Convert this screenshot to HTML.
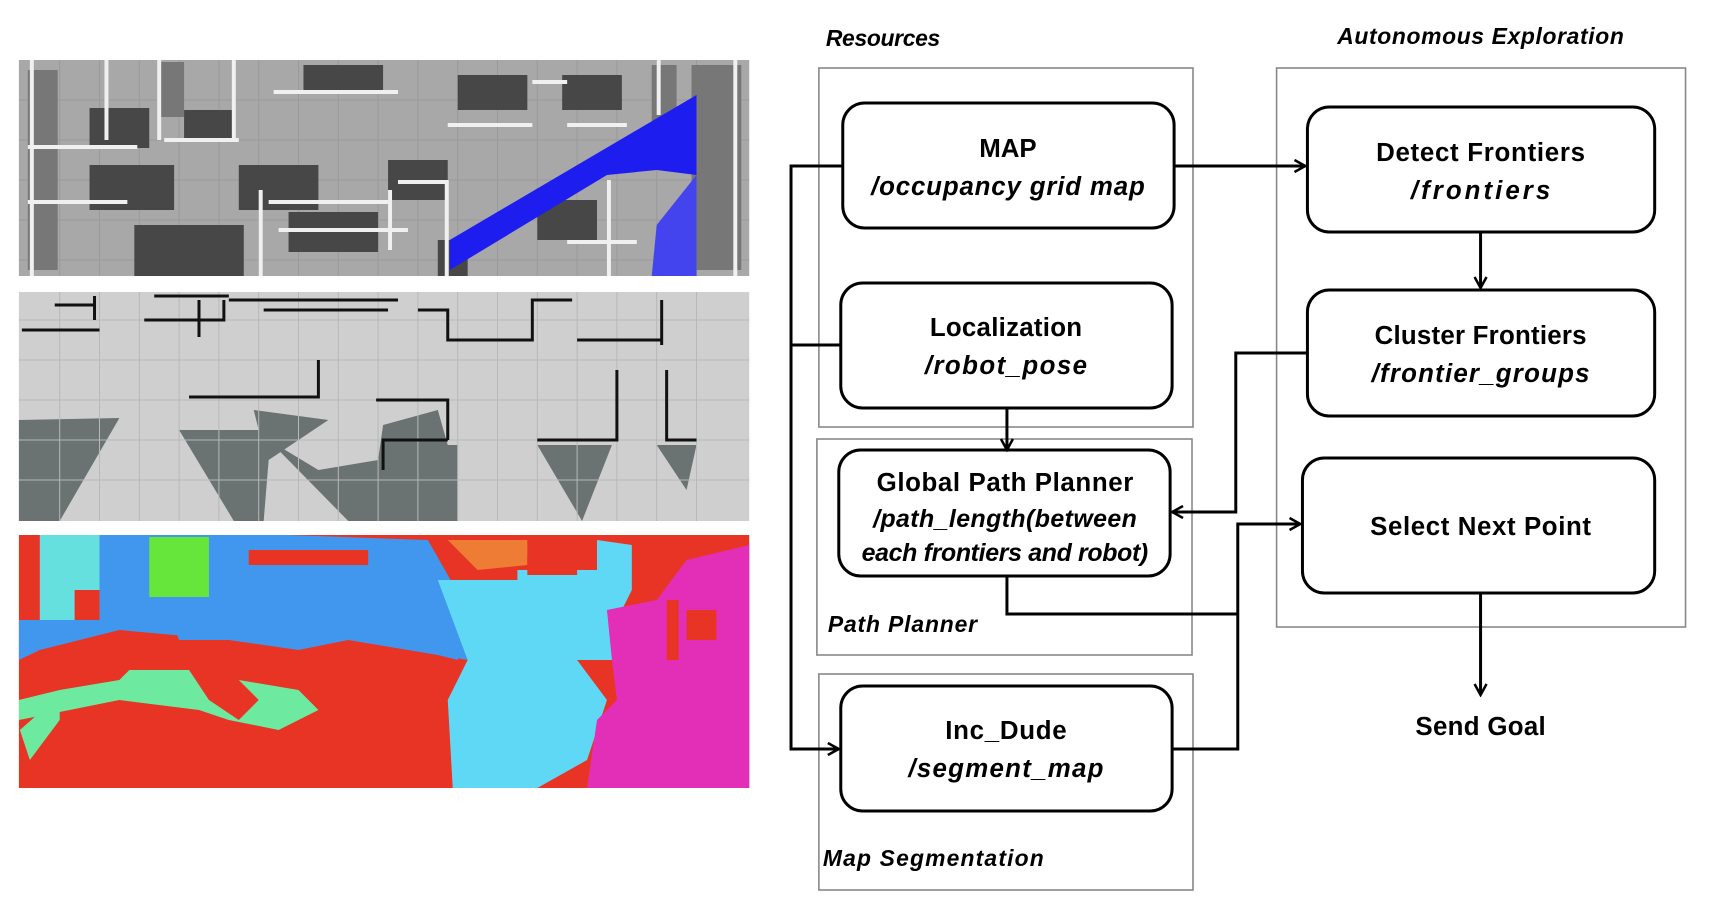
<!DOCTYPE html>
<html><head><meta charset="utf-8"><style>
html,body{margin:0;padding:0;background:#fff;width:1710px;height:901px;overflow:hidden}
</style></head><body>
<svg width="1710" height="901" viewBox="0 0 1710 901" xmlns="http://www.w3.org/2000/svg" font-family="'Liberation Sans', sans-serif">
<defs>
<marker id="ah" markerWidth="14" markerHeight="14" refX="12" refY="7" orient="auto" markerUnits="userSpaceOnUse">
<path d="M1,1 L12,7 L1,13" fill="none" stroke="#000" stroke-width="2.5"/>
</marker>
</defs>
<g transform="scale(0.995,1)">
<g>
<rect x="19" y="60" width="734" height="216" fill="#a8a8a8"/>
<g stroke="#9a9a9a" stroke-width="1">
<path d="M60 60V276M100 60V276M140 60V276M180 60V276M220 60V276M260 60V276M300 60V276M340 60V276M380 60V276M420 60V276M460 60V276M500 60V276M540 60V276M580 60V276M620 60V276M660 60V276M700 60V276M19 100H753M19 140H753M19 180H753M19 220H753M19 260H753"/>
</g>
<g fill="#474747">
<rect x="90" y="108" width="60" height="40"/><rect x="185" y="110" width="50" height="30"/><rect x="305" y="65" width="80" height="25"/><rect x="90" y="165" width="85" height="45"/><rect x="240" y="165" width="80" height="45"/><rect x="135" y="225" width="110" height="51"/><rect x="290" y="212" width="90" height="40"/><rect x="390" y="160" width="60" height="40"/><rect x="460" y="75" width="70" height="35"/><rect x="565" y="75" width="60" height="35"/><rect x="540" y="200" width="60" height="40"/><rect x="440" y="240" width="30" height="36"/>
</g>
<g fill="#777">
<rect x="28" y="70" width="30" height="200"/><rect x="695" y="65" width="50" height="205"/><rect x="160" y="62" width="25" height="55"/><rect x="655" y="65" width="25" height="60"/>
</g>
<g fill="#f0f0f0">
<rect x="28" y="145" width="110" height="4"/><rect x="28" y="200" width="100" height="4"/><rect x="165" y="138" width="75" height="4"/><rect x="270" y="200" width="120" height="4"/><rect x="280" y="228" width="130" height="4"/><rect x="275" y="90" width="125" height="4"/><rect x="450" y="123" width="85" height="4"/><rect x="570" y="123" width="60" height="4"/><rect x="535" y="80" width="35" height="4"/><rect x="400" y="180" width="50" height="4"/><rect x="570" y="240" width="70" height="4"/><rect x="660" y="225" width="35" height="4"/>
<rect x="30" y="60" width="4" height="216"/><rect x="105" y="60" width="4" height="80"/><rect x="158" y="60" width="4" height="80"/><rect x="233" y="60" width="4" height="80"/><rect x="260" y="190" width="4" height="86"/><rect x="390" y="190" width="4" height="60"/><rect x="447" y="180" width="4" height="96"/><rect x="660" y="60" width="4" height="55"/><rect x="610" y="180" width="4" height="96"/><rect x="737" y="60" width="4" height="216"/>
</g>
<polygon points="452,240 700,95 700,175 660,170 610,175 452,270" fill="#1d1df0"/>
<polygon points="660,225 700,175 700,276 655,276" fill="#4444ee"/>
</g>
<g>
<rect x="19" y="292" width="734" height="229" fill="#cfcfcf"/>
<polygon points="19,420 120,418 60,521 19,521" fill="#6b7272"/>
<polygon points="180,430 260,430 255,410 330,420 270,460 265,521 235,521" fill="#6b7272"/>
<polygon points="385,425 440,410 450,445 460,445 460,521 380,521 380,460" fill="#6b7272"/>
<polygon points="270,440 320,470 380,460 380,521 350,521" fill="#6b7272"/>
<polygon points="540,445 615,445 585,521" fill="#6b7272"/>
<polygon points="660,445 700,445 690,490" fill="#6b7272"/>
<g stroke="#b8b8b8"><path d="M60 292V521M100 292V521M140 292V521M180 292V521M220 292V521M260 292V521M300 292V521M340 292V521M380 292V521M420 292V521M460 292V521M500 292V521M540 292V521M580 292V521M620 292V521M660 292V521M700 292V521M19 320H753M19 360H753M19 400H753M19 440H753M19 480H753"/></g>
<g stroke="#111" stroke-width="3" fill="none">
<path d="M95 296V320M55 305H95M155 296H230M145 320H225V300"/><path d="M230 300H400M265 310H390M420 310H450V340H520"/><path d="M460 340H535V300H575M580 340H665"/><path d="M22 330H100M200 300V337"/><path d="M190 397H320V360"/><path d="M378 400H450V440M450 440H385V470"/><path d="M540 440H620V370M670 370V440H700"/><path d="M665 300V345"/>
</g>
</g>
<g>
<rect x="19" y="535" width="734" height="253" fill="#e83424"/>
<polygon points="40,535 100,535 100,590 75,590 75,620 40,620" fill="#66e0de"/>
<polygon points="19,620 100,620 100,600 230,600 240,580 460,580 470,660 350,640 300,650 230,640 120,630 40,650 19,660" fill="#4197ee"/>
<polygon points="100,535 290,535 430,540 470,610 460,660 420,650 400,640 180,640 165,600 100,600" fill="#4197ee"/>
<rect x="150" y="537" width="60" height="60" fill="#66e53a"/>
<polygon points="450,540 530,540 530,565 480,570" fill="#ee7c35"/>
<polygon points="440,580 520,580 520,570 600,570 600,540 635,545 635,590 620,620 615,660 580,660 610,700 590,760 540,788 455,788 450,700 470,660" fill="#5fd8f5"/>
<polygon points="610,610 660,600 690,560 753,545 753,788 590,788 600,720 620,700 615,660" fill="#e32eb7"/>
<polygon points="60,690 120,680 130,670 190,670 210,700 240,720 260,700 240,680 300,690 320,710 280,730 230,720 200,710 120,700 70,710 19,720 19,700" fill="#6deaa0"/>
<polygon points="20,730 60,695 60,720 30,760" fill="#6deaa0"/>
<g fill="#e83424"><rect x="670" y="600" width="12" height="60"/><rect x="690" y="610" width="30" height="30"/><rect x="530" y="555" width="50" height="20"/><rect x="250" y="550" width="120" height="15"/></g>
</g>
<g fill="none" stroke="#888" stroke-width="1.6">
<rect x="823" y="68" width="376" height="359"/>
<rect x="821" y="439" width="377" height="216"/>
<rect x="823" y="674" width="376" height="216"/>
<rect x="1283" y="68" width="411" height="559"/>
</g>
<g font-weight="bold" font-style="italic" font-size="23" fill="#000">
<text x="830" y="46" textLength="115">Resources</text>
<text x="1488" y="44" text-anchor="middle" textLength="288">Autonomous Exploration</text>
<text x="832" y="632" textLength="150">Path Planner</text>
<text x="827" y="866" textLength="222">Map Segmentation</text>
</g>
<g fill="#fff" stroke="#000" stroke-width="3">
<rect x="847" y="103" width="333" height="125" rx="22"/>
<rect x="845" y="283" width="333" height="125" rx="22"/>
<rect x="843" y="450" width="333" height="126" rx="22"/>
<rect x="845" y="686" width="333" height="125" rx="22"/>
<rect x="1314" y="107" width="349" height="125" rx="22"/>
<rect x="1314" y="290" width="349" height="126" rx="22"/>
<rect x="1309" y="458" width="354" height="135" rx="22"/>
</g>
<g font-weight="bold" font-size="26" fill="#000" text-anchor="middle">
<text x="1013" y="157">MAP</text>
<text x="1013" y="195" font-style="italic" textLength="275">/occupancy grid map</text>
<text x="1011" y="336" textLength="153">Localization</text>
<text x="1011" y="374" font-style="italic" textLength="163">/robot_pose</text>
<text x="1010" y="491" textLength="258">Global Path Planner</text>
<text x="1010" y="527" font-style="italic" font-size="25" textLength="265">/path_length(between</text>
<text x="1010" y="561" font-style="italic" font-size="25" textLength="288">each frontiers and robot)</text>
<text x="1011" y="739" textLength="122">Inc_Dude</text>
<text x="1011" y="777" font-style="italic" textLength="196">/segment_map</text>
<text x="1488" y="161" textLength="210">Detect Frontiers</text>
<text x="1488" y="199" font-style="italic" textLength="140">/frontiers</text>
<text x="1488" y="344" textLength="213">Cluster Frontiers</text>
<text x="1488" y="382" font-style="italic" textLength="219">/frontier_groups</text>
<text x="1488" y="535" textLength="222">Select Next Point</text>
<text x="1488" y="735" textLength="131">Send Goal</text>
</g>
<g fill="none" stroke="#000" stroke-width="3">
<path d="M847 166H795V749H843" marker-end="url(#ah)"/>
<path d="M845 345H795"/>
<path d="M1180 166H1312" marker-end="url(#ah)"/>
<path d="M1488 232V288" marker-end="url(#ah)"/>
<path d="M1012 408V450" marker-end="url(#ah)"/>
<path d="M1314 353H1242V512H1178" marker-end="url(#ah)"/>
<path d="M1012 576V614H1244"/>
<path d="M1178 749H1244V524H1307" marker-end="url(#ah)"/>
<path d="M1488 593V695" marker-end="url(#ah)"/>
</g>
</g>
</svg>
</body></html>
